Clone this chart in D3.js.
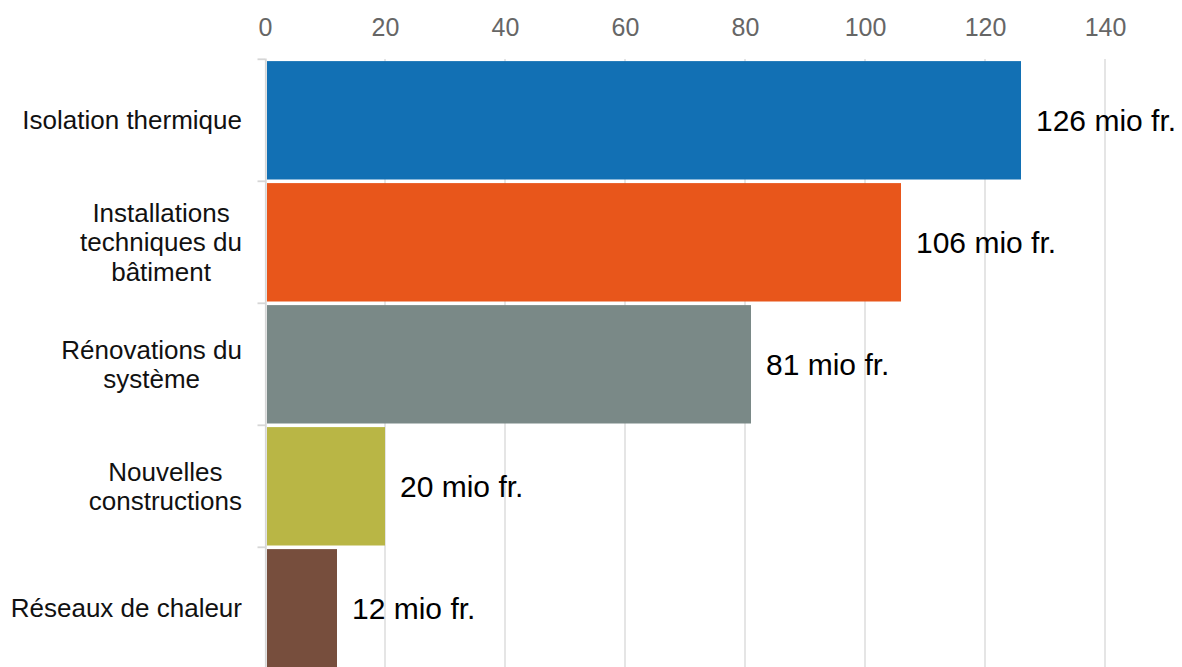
<!DOCTYPE html>
<html><head><meta charset="utf-8">
<script src="https://cdn.jsdelivr.net/npm/d3@7"></script>
<style>body{margin:0;background:#fff}svg{display:block;font-family:"Liberation Sans",Arial,sans-serif}</style>
</head><body><svg id="c" width="1182" height="667"></svg>
<script>
const categories = [["Isolation thermique"],["Installations","techniques du","bâtiment"],["Rénovations du","système"],["Nouvelles","constructions"],["Réseaux de chaleur"]];
const values = [126,106,81,20,12];
const valueLabels = ["126 mio fr.","106 mio fr.","81 mio fr.","20 mio fr.","12 mio fr."];
const colors = ["#1270b4","#e8561b","#7a8987","#b9b645","#774e3d"];
const ticks = [0,20,40,60,80,100,120,140];

const svg = d3.select("#c");
const keys = categories.map((d,i)=>i);
const x = d3.scaleLinear().domain([0,140]).range([265,1105]);
const y = d3.scaleBand().domain(keys).range([59.3,669.3]).paddingInner(0).paddingOuter(0);

// gridlines
svg.append("g").selectAll("line").data(ticks.slice(1)).join("line")
  .attr("x1",d=>x(d)).attr("x2",d=>x(d)).attr("y1",59).attr("y2",667)
  .attr("stroke","#dcdcdc").attr("stroke-width",1.5);

// top axis labels
const ax = svg.append("g").attr("transform","translate(0,36)")
  .call(d3.axisTop(x).tickValues(ticks).tickSize(0).tickPadding(0));
ax.select(".domain").remove();
ax.selectAll("text").attr("font-size",25).attr("fill","#666").attr("font-family","Liberation Sans, Arial, sans-serif").attr("dy",0);

// y axis line & ticks
svg.append("line").attr("x1",265.8).attr("x2",265.8).attr("y1",58.5).attr("y2",667)
  .attr("stroke","#d6d6d6").attr("stroke-width",1.8);
const bounds = keys.map(k=>y(k)).concat([y(keys[keys.length-1])+y.bandwidth()]);
svg.append("g").selectAll("line").data(bounds).join("line")
  .attr("x1",257.5).attr("x2",265).attr("y1",d=>d).attr("y2",d=>d)
  .attr("stroke","#d6d6d6").attr("stroke-width",1.8);

// bars
svg.append("g").selectAll("rect").data(keys).join("rect")
  .attr("x",x(0)+2).attr("y",k=>y(k)+1.8)
  .attr("width",k=>x(values[k])-x(0)-2).attr("height",y.bandwidth()-3.6)
  .attr("fill",k=>colors[k]);

// value labels
svg.append("g").selectAll("text").data(keys).join("text")
  .attr("x",k=>x(values[k])+15).attr("y",k=>y(k)+y.bandwidth()/2)
  .attr("dy","0.37em").attr("font-size",30).attr("fill","#000")
  .text(k=>valueLabels[k]);

// category labels
const lh = 29.5;
const cg = svg.append("g");
keys.forEach(k=>{
  const lines = categories[k];
  const t = cg.append("text").attr("font-size",26).attr("fill","#111").attr("text-anchor","middle");
  const spans = lines.map((s,i)=>t.append("tspan").text(s));
  let maxW = 0;
  spans.forEach(sp=>{maxW=Math.max(maxW, sp.node().getComputedTextLength());});
  const cx = 242 - maxW/2;
  const cy = y(k)+y.bandwidth()/2;
  spans.forEach((sp,i)=>{
    sp.attr("x",cx).attr("y",cy + (i-(lines.length-1)/2)*lh).attr("dy","0.35em");
  });
});
</script></body></html>
